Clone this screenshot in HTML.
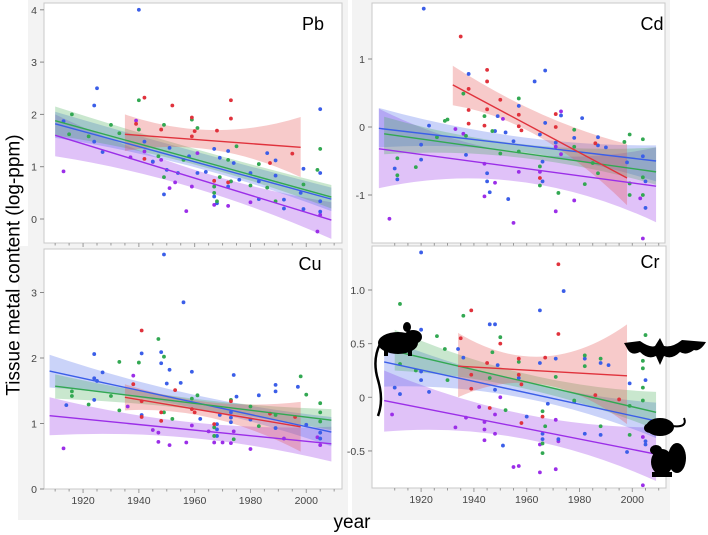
<!DOCTYPE html>
<html><head><meta charset="utf-8">
<style>
html,body{margin:0;padding:0;background:#fff;}
svg{display:block;font-family:"Liberation Sans",sans-serif;}
</style></head>
<body>
<svg id="chart" width="708" height="535" viewBox="0 0 708 535">
  <rect x="28" y="0" width="320" height="246" fill="#f3f3f3"/>
  <rect x="18" y="246" width="330" height="274" fill="#f3f3f3"/>
  <rect x="352" y="0" width="318" height="246" fill="#f3f3f3"/>
  <rect x="352" y="246" width="318" height="274" fill="#f3f3f3"/>
  <text x="14" y="265" transform="rotate(-90 14 265)" text-anchor="middle" dominant-baseline="central" font-size="19" fill="#000">Tissue metal content (log-ppm)</text>
  <text x="352" y="528" text-anchor="middle" font-size="19" fill="#000">year</text>
  <g id="panels"></g>
  <g id="animals" fill="#000">
    <g>
      <ellipse cx="398" cy="343" rx="20" ry="11"/>
      <ellipse cx="413" cy="337" rx="9" ry="7"/>
      <ellipse cx="407" cy="327" rx="4" ry="5"/>
      <rect x="384" y="350" width="4" height="6"/>
      <rect x="408" y="350" width="4" height="6"/>
      <path d="M380 344 Q372 360 378 380 Q384 400 378 416" stroke="#000" stroke-width="2.5" fill="none"/>
    </g>
    <g>
      <path d="M624 343 L640 341 Q650 348 655 346 L660 338 L664 346 Q672 348 682 340 L706 342 Q700 352 694 350 Q686 356 680 352 Q672 360 664 356 L660 365 L656 356 Q648 360 640 352 Q632 356 628 350 Z"/>
    </g>
    <g>
      <ellipse cx="660" cy="427" rx="14" ry="9"/>
      <ellipse cx="650" cy="428" rx="6" ry="5"/>
      <path d="M672 426 Q688 428 684 418" stroke="#000" stroke-width="2" fill="none"/>
    </g>
    <g>
      <ellipse cx="662" cy="462" rx="11" ry="13"/>
      <ellipse cx="656" cy="450" rx="6" ry="5"/>
      <ellipse cx="677" cy="458" rx="9" ry="15"/>
      <rect x="652" y="472" width="20" height="5"/>
    </g>
  </g>
</svg>
<script>
// ===== DATA =====
const yearTicks = [1920, 1940, 1960, 1980, 2000];
const pbTicks = [0, 1, 2, 3, 4];
const cdTicks = [-1, 0, 1];
const cuTicks = [0, 1, 2, 3];
const crTicks = [-0.5, 0, 0.5, 1.0];
const crTickLabels = ["-0.5", "0", "0.5", "1.0"];

// Pb points [year, value]
const pbBlue = [[1940,4.0],[1925,2.5],[1924,2.17],[2005,2.1],[1913,1.87],[1924,1.48],[1927,1.28],[1942,1.48],[1949,0.47],[1950,0.94],[1951,1.36],[1954,0.88],[1958,1.2],[1967,1.34],[1969,1.17],[1972,1.3],[1974,1.07],[1976,0.75],[1967,0.43],[1968,0.3],[1980,0.88],[1983,0.38],[1986,1.26],[1989,1.12],[1989,0.83],[1992,0.37],[1998,0.5],[1999,0.96],[2005,0.88],[1999,0.19],[2005,0.34],[2005,0.14],[1945,1.1],[1961,0.88],[1964,0.9],[1972,0.62],[1983,0.72],[1992,0.2]];
const pbGreen = [[1940,2.27],[1916,2.0],[1930,1.8],[1933,1.64],[1940,1.71],[1949,1.8],[1959,1.9],[1961,1.74],[1949,0.8],[1967,0.62],[1967,0.5],[1968,0.34],[1969,0.8],[1972,1.13],[1975,1.39],[1980,0.64],[1983,1.05],[1986,0.6],[1989,0.34],[1999,0.66],[2004,0.94],[2005,1.34],[1915,1.62],[1922,1.58],[1947,1.2],[1973,0.72],[1956,1.13]];
const pbRed = [[1942,2.32],[1952,2.17],[1959,1.94],[1973,2.27],[1973,1.92],[1939,1.82],[1948,1.71],[1959,1.58],[1960,1.68],[1968,1.69],[1987,1.07],[1995,1.25],[1942,1.15],[1967,0.73],[1972,0.7]];
const pbPurple = [[1913,0.91],[1939,1.88],[1937,1.18],[1945,1.09],[1948,1.13],[1951,0.59],[1953,0.7],[1957,0.15],[1959,0.62],[1967,0.27],[1972,0.25],[1973,0.72],[1980,0.32],[2004,-0.24],[2005,0.08],[1942,1.29],[1961,1.26]];

const cdBlue = [[1921,1.74],[1938,0.78],[1967,0.83],[1963,0.67],[1923,0.02],[1920,-0.26],[1920,-0.48],[1910,-0.61],[1911,-0.77],[1937,-0.41],[1945,-0.68],[1945,-0.8],[1946,-0.96],[1953,-1.06],[1949,0.16],[1957,0.31],[1952,-0.08],[1965,-0.11],[1967,0.06],[1973,0.17],[1981,0.13],[1978,-0.16],[1987,-0.15],[1987,-0.27],[1990,-0.3],[1998,-0.52],[2004,-0.43],[2005,-0.8],[2005,-1.19],[1966,-0.51],[1966,-0.8],[1971,-0.23],[1955,-0.21],[1948,-0.06]];
const cdGreen = [[1929,0.09],[1930,0.11],[1936,0.49],[1944,0.16],[1957,0.42],[1926,-0.15],[1918,-0.59],[1911,-0.71],[1911,-0.46],[1947,-0.06],[1950,-0.39],[1957,-0.36],[1965,-0.58],[1965,-0.86],[1972,-0.97],[1978,-0.04],[1978,-0.29],[1982,-0.84],[1987,-0.68],[1997,-0.22],[1999,-0.11],[1999,-0.83],[1999,-1.0],[2004,-0.18],[2004,-0.74],[2004,-1.0],[1937,-0.13],[1985,-0.53]];
const cdRed = [[1935,1.33],[1945,0.84],[1945,0.67],[1938,0.56],[1938,0.25],[1950,0.4],[1945,0.26],[1957,0.18],[1957,0.01],[1938,0.05],[1944,0.02],[1971,0.19],[1971,0.0],[1965,-0.75],[1986,-0.24],[1958,-0.05]];
const cdPurple = [[1908,-1.35],[1933,-0.03],[1936,-0.1],[1951,0.12],[1973,0.23],[1944,-0.54],[1944,-1.02],[1948,-0.82],[1957,-0.66],[1955,-1.41],[1965,-0.66],[1971,-1.24],[1978,-1.08],[2003,-1.05],[2004,-1.64],[1971,-0.29],[1973,-0.4]];

const cuBlue = [[1949,3.58],[1956,2.85],[1924,2.06],[1941,2.07],[1948,2.09],[1948,1.92],[1951,1.82],[1959,1.79],[1955,1.62],[1924,1.69],[1925,1.65],[1927,1.78],[1924,1.36],[1914,1.28],[1950,1.61],[1974,1.74],[1975,1.41],[1983,1.43],[1989,1.59],[1989,1.49],[1997,1.56],[1968,0.99],[1968,0.91],[1968,0.81],[1973,1.17],[1973,1.09],[1973,1.02],[1980,1.06],[1989,0.93],[2005,0.86],[2005,0.77],[2000,0.98],[1941,1.13],[1962,1.07],[1969,1.13]];
const cuGreen = [[1947,2.29],[1949,2.02],[1940,1.93],[1933,1.94],[1916,1.49],[1916,1.42],[1930,1.42],[1922,1.29],[1933,1.2],[1961,1.43],[1949,1.17],[1952,1.07],[1973,1.36],[1980,1.26],[1998,1.72],[2000,1.44],[2005,1.31],[2005,1.17],[2005,1.03],[1983,0.96],[1989,1.13],[1967,0.94],[1967,0.81],[1974,0.76],[1959,1.38]];
const cuRed = [[1941,2.42],[1938,1.6],[1941,1.34],[1941,1.1],[1948,1.17],[1948,1.04],[1953,1.51],[1959,1.22],[1960,1.17],[1967,0.99],[1973,1.34],[1996,1.1],[1987,1.15]];
const cuPurple = [[1913,0.62],[1938,1.73],[1936,1.26],[1945,0.9],[1947,0.86],[1947,0.72],[1951,0.67],[1957,0.71],[1959,0.97],[1967,0.71],[1970,0.71],[1973,0.7],[1974,0.88],[1980,0.61],[1992,0.77],[2004,0.79],[2005,0.67],[1965,0.88]];

const crBlue = [[1920,1.35],[1920,0.63],[1974,0.99],[1965,0.81],[1946,0.68],[1948,0.68],[1920,0.24],[1920,0.16],[1910,0.09],[1912,0.03],[1923,0.05],[1934,0.45],[1936,0.37],[1949,0.3],[1948,0.07],[1957,0.18],[1965,0.32],[1971,0.36],[1982,0.36],[1988,0.32],[1991,0.3],[1999,0.13],[2005,0.16],[1951,-0.45],[1966,-0.34],[1966,-0.39],[1972,-0.39],[1978,-0.04],[1982,-0.34],[1988,-0.35],[1998,-0.51],[2005,-0.41],[2005,-0.44],[1960,-0.18],[1968,-0.06]];
const crGreen = [[1912,0.87],[1936,0.76],[1926,0.57],[1929,0.45],[1912,0.31],[1918,0.25],[1930,0.16],[1947,0.42],[1950,0.56],[1957,0.33],[1971,0.19],[1982,0.39],[1982,0.29],[1988,0.36],[2005,0.58],[2004,0.34],[2004,0.27],[2004,0.09],[2004,-0.03],[1999,-0.08],[1999,-0.35],[1966,-0.13],[1967,-0.27],[1966,-0.52],[1966,-0.43],[1978,-0.03],[1988,-0.27],[1952,-0.12],[1946,0.18]];
const crRed = [[1939,0.81],[1935,0.55],[1950,0.5],[1957,0.36],[1957,0.21],[1958,0.12],[1939,0.21],[1939,0.08],[1945,0.32],[1972,1.24],[1972,0.59],[1967,0.37],[1986,0.02],[1995,-0.02],[1946,-0.1],[1958,-0.24],[1966,-0.18]];
const crPurple = [[1909,-0.16],[1933,-0.28],[1937,-0.19],[1942,-0.09],[1944,-0.4],[1944,-0.23],[1948,-0.16],[1948,-0.34],[1950,0.0],[1955,-0.65],[1957,-0.64],[1965,-0.7],[1965,-0.44],[1971,-0.67],[1971,-0.21],[1972,-0.41],[2004,-0.82],[2004,-0.37],[1944,-0.3]];

// Fits: [startYear, endYear, startValue, endValue]
// Bands: [startLow, startHigh, midLow, midHigh, endLow, endHigh]
const pbFitGreen = [1910, 2009, 1.88, 0.42]; const pbBandGreen = [1.6, 2.15, 1.05, 1.35, 0.2, 0.65];
const pbFitBlue = [1910, 2009, 1.82, 0.38]; const pbBandBlue = [1.55, 2.05, 1.0, 1.3, 0.15, 0.6];
const pbFitPurple = [1910, 2009, 1.6, -0.02]; const pbBandPurple = [1.2, 2.0, 0.6, 0.95, -0.38, 0.32];
const pbFitRed = [1935, 1998, 1.62, 1.37]; const pbBandRed = [1.3, 2.0, 1.32, 1.7, 0.8, 1.95];

const cdFitBlue = [1904, 2009, -0.02, -0.5]; const cdBandBlue = [-0.3, 0.28, -0.36, -0.14, -0.8, -0.27];
const cdFitGreen = [1906, 2009, -0.1, -0.66]; const cdBandGreen = [-0.4, 0.15, -0.45, -0.25, -0.85, -0.3];
const cdFitPurple = [1904, 2009, -0.32, -0.87]; const cdBandPurple = [-0.9, 0.27, -0.8, -0.38, -1.4, -0.3];
const cdFitRed = [1932, 1998, 0.62, -0.75]; const cdBandRed = [0.32, 0.9, -0.15, 0.2, -1.15, -0.25];

const cuFitBlue = [1908, 2009, 1.8, 0.87]; const cuBandBlue = [1.55, 2.05, 1.25, 1.45, 0.65, 1.1];
const cuFitGreen = [1910, 2009, 1.57, 1.05]; const cuBandGreen = [1.38, 1.75, 1.22, 1.38, 0.9, 1.22];
const cuFitPurple = [1908, 2009, 1.12, 0.69]; const cuBandPurple = [0.82, 1.4, 0.78, 1.02, 0.42, 0.95];
const cuFitRed = [1935, 1998, 1.4, 0.95]; const cuBandRed = [1.2, 1.6, 1.08, 1.32, 0.57, 1.33];

const crFitGreen = [1910, 2009, 0.43, -0.14]; const crBandGreen = [0.25, 0.63, 0.08, 0.22, -0.3, 0.05];
const crFitBlue = [1906, 2009, 0.33, -0.22]; const crBandBlue = [0.1, 0.55, -0.0, 0.15, -0.38, -0.05];
const crFitPurple = [1906, 2009, -0.03, -0.53]; const crBandPurple = [-0.32, 0.25, -0.38, -0.15, -0.78, -0.28];
const crFitRed = [1934, 1998, 0.29, 0.2]; const crBandRed = [-0.0, 0.6, 0.12, 0.38, -0.25, 0.68];

// ===== RENDER =====
const NS = "http://www.w3.org/2000/svg";
const COL = {blue:"#3b5ee8", green:"#32a852", red:"#e0323c", purple:"#9b2ee8"};
const BAND = {blue:"rgba(80,110,235,0.30)", green:"rgba(60,170,80,0.28)", red:"rgba(230,80,80,0.30)", purple:"rgba(160,70,235,0.33)"};

function mk(tag, attrs, parent){
  const e = document.createElementNS(NS, tag);
  for (const k in attrs) e.setAttribute(k, attrs[k]);
  parent.appendChild(e); return e;
}

const panels = [
  {key:"pb", title:"Pb", L:44, R:342, T:3, B:243, x0:1906, xr:2.79, vAt:219, vs:52.3,
   ticks:pbTicks, tl:pbTicks.map(String), xlabels:false, tx:313, ty:30,
   series:{blue:[pbBlue,pbFitBlue,pbBandBlue], green:[pbGreen,pbFitGreen,pbBandGreen], red:[pbRed,pbFitRed,pbBandRed], purple:[pbPurple,pbFitPurple,pbBandPurple]}},
  {key:"cd", title:"Cd", L:372, R:665, T:3, B:243, x0:1901.4, xr:2.64, vAt:127, vs:68,
   ticks:cdTicks, tl:cdTicks.map(String), xlabels:false, tx:652, ty:30,
   series:{blue:[cdBlue,cdFitBlue,cdBandBlue], green:[cdGreen,cdFitGreen,cdBandGreen], purple:[cdPurple,cdFitPurple,cdBandPurple], red:[cdRed,cdFitRed,cdBandRed]}},
  {key:"cu", title:"Cu", L:44, R:342, T:249, B:489, x0:1906, xr:2.79, vAt:489, vs:65.5,
   ticks:cuTicks, tl:cuTicks.map(String), xlabels:true, tx:310, ty:270,
   series:{blue:[cuBlue,cuFitBlue,cuBandBlue], green:[cuGreen,cuFitGreen,cuBandGreen], red:[cuRed,cuFitRed,cuBandRed], purple:[cuPurple,cuFitPurple,cuBandPurple]}},
  {key:"cr", title:"Cr", L:372, R:666, T:246, B:488, x0:1901.4, xr:2.64, vAt:397.3, vs:107.3,
   ticks:crTicks, tl:crTickLabels, xlabels:true, tx:650, ty:268,
   series:{blue:[crBlue,crFitBlue,crBandBlue], green:[crGreen,crFitGreen,crBandGreen], red:[crRed,crFitRed,crBandRed], purple:[crPurple,crFitPurple,crBandPurple]}}
];

const root = document.getElementById("panels");
const order = ["purple","blue","green","red"];

panels.forEach(p => {
  const xs = yr => p.L + (yr - p.x0) * p.xr;
  const ys = v => p.vAt - v * p.vs;
  const g = mk("g", {}, root);
  
  
  const fr = mk("rect", {x:p.L, y:p.T, width:p.R-p.L, height:p.B-p.T, fill:"#fff", stroke:"#c8c8c8", "stroke-width":1}, g);
  
  
  const cp = mk("clipPath", {id:"clip-"+p.key}, g);
  mk("rect", {x:p.L, y:p.T, width:p.R-p.L, height:p.B-p.T}, cp);

  // y ticks
  p.ticks.forEach((t,i) => {
    const y = ys(t);
    mk("line", {x1:p.L-4, x2:p.L, y1:y, y2:y, stroke:"#888", "stroke-width":1}, g);
    const tx = mk("text", {x:p.L-7, y:y+4, "text-anchor":"end", "font-size":"10.5", fill:"#444"}, g);
    tx.textContent = p.tl[i];
    
    
  });
  // x ticks
  for (let yr = 1910; yr <= 2010; yr += 5) {
    const x = xs(yr);
    const major = yr % 20 === 0;
    mk("line", {x1:x, x2:x, y1:p.B, y2:p.B+(major?4:2.5), stroke:"#999", "stroke-width":1}, g);
  }
  if (p.xlabels) {
    yearTicks.forEach(yr => {
      const tx = mk("text", {x:xs(yr), y:p.B+15, "text-anchor":"middle", "font-size":"10.5", fill:"#444"}, g);
      tx.textContent = yr;
      
      
    });
  }
  const inner = mk("g", {"clip-path":"url(#clip-"+p.key+")"}, g);
  // bands
  order.forEach(c => {
    const s = p.series[c]; if (!s) return;
    const f = s[1], b = s[2];
    const mid = (f[0]+f[1])/2;
    const d = "M"+xs(f[0])+","+ys(b[1])+" Q"+xs(mid)+","+(2*ys(b[3])-(ys(b[1])+ys(b[5]))/2)+" "+xs(f[1])+","+ys(b[5])+
              " L"+xs(f[1])+","+ys(b[4])+" Q"+xs(mid)+","+(2*ys(b[2])-(ys(b[0])+ys(b[4]))/2)+" "+xs(f[0])+","+ys(b[0])+" Z";
    const band = mk("path", {d:d, fill:BAND[c]}, inner);
    
    
  });
  // points
  order.forEach(c => {
    const s = p.series[c]; if (!s) return;
    s[0].forEach(pt => {
      const dot = mk("circle", {cx:xs(pt[0]), cy:ys(pt[1]), r:1.9, fill:COL[c]}, inner);
      
      
    });
  });
  // fit lines
  order.forEach(c => {
    const s = p.series[c]; if (!s) return;
    const f = s[1];
    const ln = mk("line", {x1:xs(f[0]), y1:ys(f[2]), x2:xs(f[1]), y2:ys(f[3]), stroke:COL[c], "stroke-width":1.4}, inner);
    
    
  });
  const tt = mk("text", {x:p.tx, y:p.ty, "text-anchor":"middle", "font-size":"18", fill:"#000"}, g);
  tt.textContent = p.title;
  
  
});
</script>
</body></html>
